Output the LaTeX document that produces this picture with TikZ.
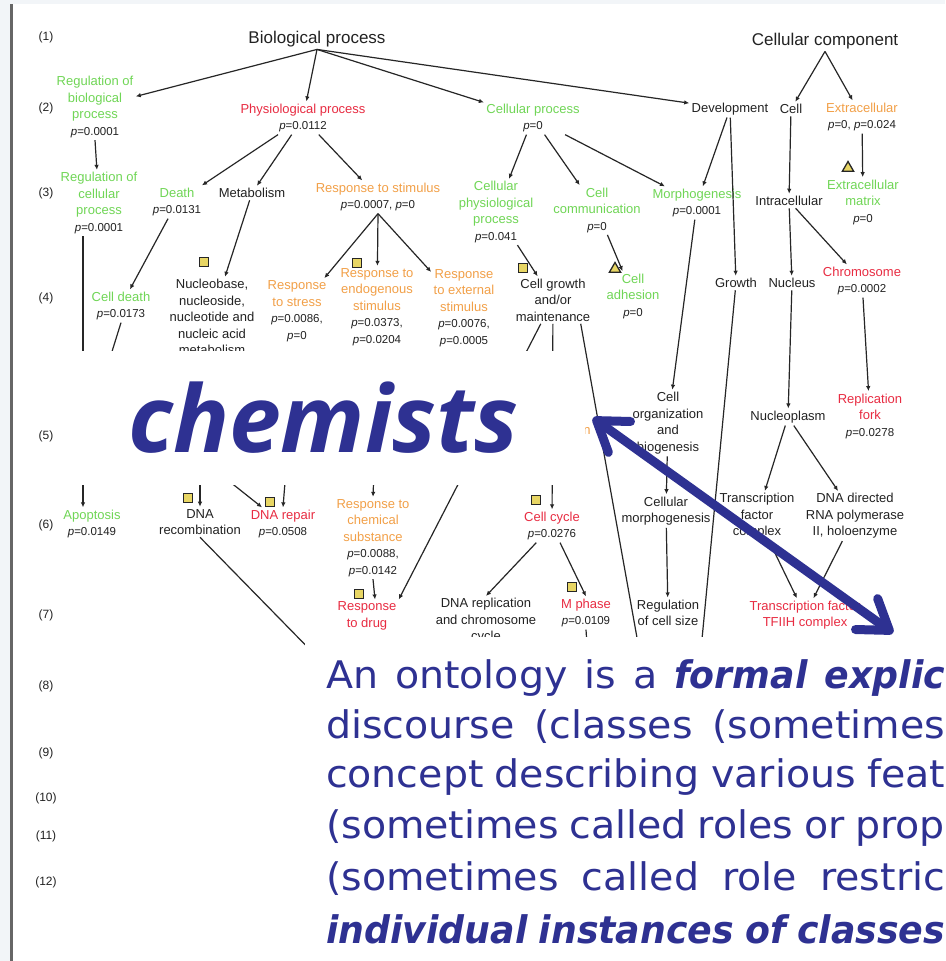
\documentclass[tikz,border=0pt]{standalone}
\usepackage{fontspec}
\setmainfont{Liberation Sans}
\newfontfamily\handfont[FakeStretch=1.04]{DejaVu Sans}
\newfontfamily\handbold[FakeStretch=0.955]{DejaVu Sans}
\newfontfamily\chemfont{Open Sans}
\usetikzlibrary{positioning,shapes.geometric,arrows.meta}
\definecolor{gogreen}{RGB}{112,214,86}
\definecolor{gored}{RGB}{232,44,66}
\definecolor{goorange}{RGB}{242,160,72}
\definecolor{ink}{RGB}{34,34,34}
\definecolor{slideblue}{RGB}{46,49,146}
\definecolor{pagegray}{RGB}{242,245,248}
\definecolor{boxyellow}{RGB}{232,214,100}
\newcommand{\pv}[1]{{\color{ink}\fontsize{11.5}{15}\selectfont\textit{p}=#1}}
\newcommand{\defline}[1]{\makebox[619pt][s]{#1}}
\newcommand{\emword}[1]{{\handbold\bfseries\itshape #1}}

\begin{document}
\begin{tikzpicture}[x=1pt,y=-1pt,
    every node/.style={inner sep=1pt, outer sep=1.5pt, align=center},
    lbl/.style={text=ink, font=\fontsize{13}{16.5}\selectfont},
    grn/.style={lbl, text=gogreen},
    rd/.style={lbl, text=gored},
    orn/.style={lbl, text=goorange},
    top/.style={text=ink, font=\fontsize{17}{20}\selectfont},
    rowlbl/.style={text=ink, font=\fontsize{12}{14}\selectfont},
    goarrow/.style={-{Latex[length=5pt,width=4.5pt]}, line width=1.2pt, black!85},
    goline/.style={line width=1.2pt, black!85},
    sqmark/.style={draw=black!85, fill=boxyellow, line width=1.3pt, minimum size=9pt, inner sep=0pt, outer sep=0pt},
    trimark/.style={regular polygon, regular polygon sides=3, draw=black!85, fill=boxyellow, line width=1.3pt, minimum size=13pt, inner sep=0pt, outer sep=0pt},
    deftext/.style={text=slideblue, font=\handfont\fontsize{38}{51}\selectfont, anchor=base west, inner sep=0pt, outer sep=0pt, align=left}]
  \useasboundingbox (0,0) rectangle (945,961);
  \clip (0,0) rectangle (945,961);
  \fill[pagegray] (0,0) rectangle (945,961);
  \fill[white] (13,4) rectangle (945,961);
  \draw[line width=3pt, black!60] (11,4) -- (11,961);

  \foreach \n/\y in {1/37,2/108,3/193,4/298,5/436,6/525,7/615,8/686,9/753,10/798,11/836,12/882}
    \node[rowlbl] (row\n) at (46,\y) {(\n)};

  \node[top] (bp) at (317,39) {Biological process};
  \node[top] (cc) at (825,41) {Cellular component};

  \node[grn] (rbp) at (95,107) {Regulation of\\biological\\process\\\pv{0.0001}};
  \node[rd] (pp) at (303,118) {Physiological process\\\pv{0.0112}};
  \node[grn] (cp) at (533,118) {Cellular process\\\pv{0}};
  \node[lbl] (dev) at (730,109) {Development};
  \node[lbl] (cell) at (791,109) {Cell};
  \node[orn] (ext) at (862,117) {Extracellular\\\pv{0, \textit{p}=0.024}};

  \node[grn] (rcp) at (99,203) {Regulation of\\cellular\\process\\\pv{0.0001}};
  \node[grn] (death) at (177,202) {Death\\\pv{0.0131}};
  \node[lbl] (met) at (252,193) {Metabolism};
  \node[orn] (rs) at (378,197) {Response to stimulus\\\pv{0.0007, \textit{p}=0}};
  \node[grn] (cpp) at (496,212) {Cellular\\physiological\\process\\\pv{0.041}};
  \node[grn] (ccom) at (597,210) {Cell\\communication\\\pv{0}};
  \node[grn] (morph) at (697,203) {Morphogenesis\\\pv{0.0001}};
  \node[lbl] (intra) at (789,201) {Intracellular};
  \node[grn] (ecm) at (863,202) {Extracellular\\matrix\\\pv{0}};

  \node[grn] (cdeath) at (121,306) {Cell death\\\pv{0.0173}};
  \node[lbl] (nuc) at (212,317) {Nucleobase,\\nucleoside,\\nucleotide and\\nucleic acid\\metabolism};
  \node[orn] (rstress) at (297,311) {Response\\to stress\\\pv{0.0086,}\\\pv{0}};
  \node[orn] (rendo) at (377,307) {Response to\\endogenous\\stimulus\\\pv{0.0373,}\\\pv{0.0204}};
  \node[orn] (rext) at (464,308) {Response\\to external\\stimulus\\\pv{0.0076,}\\\pv{0.0005}};
  \node[lbl] (cgm) at (553,300) {Cell growth\\and/or\\maintenance};
  \node[grn] (cadh) at (633,296) {Cell\\adhesion\\\pv{0}};
  \node[lbl] (growth) at (736,283) {Growth};
  \node[lbl] (nucleus) at (792,283) {Nucleus};
  \node[rd] (chrom) at (862,281) {Chromosome\\\pv{0.0002}};

  \node[lbl] (corg) at (668,423) {Cell\\organization\\and\\biogenesis};
  \node[lbl] (nplasm) at (788,417) {Nucleoplasm};
  \node[rd] (rfork) at (870,416) {Replication\\fork\\\pv{0.0278}};
  \node[orn] (frag) at (587,431) {n};

  \node[grn] (apop) at (92,524) {Apoptosis\\\pv{0.0149}};
  \node[lbl] (dnarec) at (200,522) {DNA\\recombination};
  \node[rd] (dnarep) at (283,524) {DNA repair\\\pv{0.0508}};
  \node[orn] (rchem) at (373,538) {Response to\\chemical\\substance\\\pv{0.0088,}\\\pv{0.0142}};
  \node[rd] (ccycle) at (552,526) {Cell cycle\\\pv{0.0276}};
  \node[lbl] (cmorph) at (666,511) {Cellular\\morphogenesis};
  \node[lbl] (tfc) at (757,516) {Transcription\\factor\\complex};
  \node[lbl] (rnap) at (855,516) {DNA directed\\RNA polymerase\\II, holoenzyme};

  \node[rd] (rdrug) at (367,616) {Response\\to drug};
  \node[lbl] (dnarepl) at (486,621) {DNA replication\\and chromosome\\cycle};
  \node[rd] (mphase) at (586,613) {M phase\\\pv{0.0109}};
  \node[lbl] (rcs) at (668,613) {Regulation\\of cell size};
  \node[rd] (tfiih) at (805,615) {Transcription factor\\TFIIH complex};

  \foreach \n/\x/\y in {1/204/262,2/357/263,3/523/268,4/188/498,5/270/502,6/359/594,7/536/500,8/572/587}
    \node[sqmark] (sq\n) at (\x,\y) {};
  \foreach \n/\x/\y in {1/848/168,2/615/269}
    \node[trimark] (tri\n) at (\x,\y) {};

  \coordinate (hrec) at (200,470);
  \coordinate (hdiag) at (215,470);
  \coordinate (hrep) at (286,470);
  \coordinate (hchem) at (374,470);
  \coordinate (cdend) at (100,390);
  \coordinate (gend) at (700,660);
  \coordinate (cgend) at (641,660);
  \coordinate (dend) at (325,665);
  \coordinate (mend) at (588,660);

  \foreach \from/\to in {bp.south/rbp, bp.south/pp, bp.south/cp, bp.south/dev, cc.south/cell, cc.south/ext,
      rbp.south/rcp, pp/death, pp/met, pp/rs, cp/cpp, cp/ccom, cp/morph, dev/morph, dev/growth,
      cell/intra, ext/ecm, death/cdeath, met/nuc, rs.south/rstress, rs.south/rendo, rs.south/rext,
      cpp/cgm, ccom/cadh, intra/nucleus, intra/chrom, morph/corg, nucleus/nplasm, chrom/rfork,
      cgm/ccycle, cgm/rdrug.north east, corg/cmorph, cmorph/rcs, nplasm/tfc, nplasm/rnap,
      tfc/tfiih, rnap/tfiih, ccycle/dnarepl.north, ccycle/mphase.north,
      hrec/dnarec.north, hdiag/dnarep, hrep/dnarep.north, hchem/rchem.north}
    \draw[goarrow] (\from) -- (\to);
  \draw[goarrow] ([xshift=-16pt]rcp.south) -- ([xshift=-9pt]apop.north);
  \draw[goarrow] (rchem.south) -- ([xshift=8pt]rdrug.north);
  \draw[goline] (cdeath.south) -- (cdend);
  \draw[goline] (growth) -- (gend);
  \draw[goline] ([xshift=-12pt]cgm.south east) -- (cgend);
  \draw[goline] (dnarec.south) -- (dend);
  \draw[goline] (mphase.south) -- (mend);

  \node[fill=white, minimum width=523pt, minimum height=134pt, inner sep=0pt, text=slideblue,
        font=\chemfont\fontsize{93}{93}\selectfont\bfseries\itshape] (chem) at (323.5,418) {chemists};

  \fill[white] (305,637) rectangle (945,961);
  \node[deftext] (def1) at (326,688) {\defline{An ontology is a \emword{formal explic}}};
  \node[deftext] (def2) at (326,738) {\defline{discourse (classes (sometimes}};
  \node[deftext] (def3) at (326,787) {\defline{concept describing various feat}};
  \node[deftext] (def4) at (326,838) {\defline{(sometimes called roles or prop}};
  \node[deftext] (def5) at (326,890) {\defline{(sometimes called role restric}};
  \node[deftext] (def6) at (326,943) {\defline{\emword{individual instances of classes}}};

  \coordinate (ptop) at (593,418);
  \coordinate (pbot) at (893,633);
  \draw[slideblue, line width=9pt, {Straight Barb[round,length=28pt,width=38pt]}-{Straight Barb[round,length=28pt,width=38pt]}] (ptop) -- (pbot);
\end{tikzpicture}
\end{document}
